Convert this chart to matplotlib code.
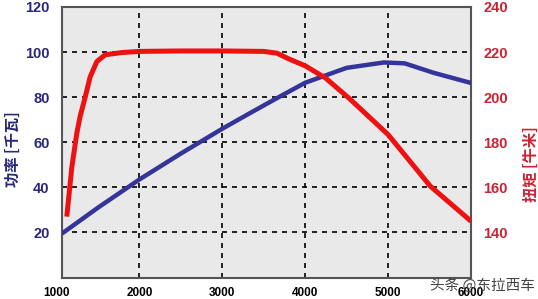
import matplotlib.pyplot as plt
import numpy as np

plt.rcParams['font.family'] = ['Liberation Sans', 'Noto Sans CJK SC', 'DejaVu Sans']

# engine speed (rpm) and curves
power_rpm = [1065, 1500, 2000, 2500, 3000, 3337, 3680, 4000, 4500, 4950, 5200, 5550, 6000]
power_kw = [19.5, 31, 43.5, 55, 66, 73, 80, 86.4, 93, 95.4, 95, 90.8, 86.3]

torque_rpm = [1123, 1184, 1244, 1284, 1345, 1405, 1486, 1586, 1790, 2000, 2500, 3000,
              3500, 3660, 3800, 4000, 4245, 4545, 5000, 5510, 6000]
torque_nm = [147, 169, 184, 191.5, 200, 209, 215.8, 218.8, 219.8, 220.3, 220.5, 220.5,
             220.3, 219.5, 217, 213.9, 208.5, 199, 183.4, 160.5, 145]

x_ticks = [2000, 3000, 4000, 5000, 6000]
left_ticks = [20, 40, 60, 80, 100, 120]
right_ticks = [140, 160, 180, 200, 220, 240]

navy = '#28287a'
red_txt = '#cc2233'

fig = plt.figure(figsize=(5.38, 2.99), dpi=100)
ax = fig.add_axes([0.1152, 0.0719, 0.7602, 0.9047])
ax.set_facecolor('#e9e9e9')

ax.plot(power_rpm, power_kw, color='#34349a', lw=3.2, solid_capstyle='butt', zorder=3)
ax.set_xlim(1065, 6000)
ax.set_ylim(0, 120)
ax.set_xticks(x_ticks)
ax.set_yticks(left_ticks)
ax.grid(True, color='black', linestyle=(0, (3, 3)), lw=1.2)
ax.tick_params(length=0)
ax.tick_params(axis='y', colors=navy, labelsize=10.5, pad=9)
ax.tick_params(axis='x', colors='black', labelsize=8.5, pad=7)
for lab in ax.get_xticklabels() + ax.get_yticklabels():
    lab.set_fontweight('bold')
# the 1000 label sits just left of the axis start
ax.annotate('1000', xy=(1000, 0), xycoords=('data', 'axes fraction'), xytext=(0, -7),
            textcoords='offset points', ha='center', va='top', fontsize=8.5,
            fontweight='bold', annotation_clip=False)
for s in ax.spines.values():
    s.set_color('#555555')
    s.set_linewidth(1.5)

ax2 = ax.twinx()
ax2.plot(torque_rpm, torque_nm, color='#ee1111', lw=3.6, solid_capstyle='butt', zorder=3)
ax2.set_ylim(120, 240)
ax2.set_yticks(right_ticks)
ax2.tick_params(length=0, colors=red_txt, labelsize=10.5, pad=9)
for lab in ax2.get_yticklabels():
    lab.set_fontweight('bold')
for s in ax2.spines.values():
    s.set_visible(False)

fig.text(0.024, 0.5, '功率 [千瓦]', rotation=90, ha='center', va='center', color=navy,
         fontsize=11, fontweight='bold', family=['Noto Sans CJK SC', 'DejaVu Sans'])
fig.text(0.986, 0.45, '扭矩 [牛米]', rotation=90, ha='center', va='center', color=red_txt,
         fontsize=11, fontweight='bold', family=['Noto Sans CJK SC', 'DejaVu Sans'])
fig.text(0.995, 0.045, '头条 @东拉西车', ha='right', va='center', color='#444444',
         fontsize=10.5, family=['Noto Sans CJK SC', 'DejaVu Sans'])

fig.savefig('out.png', dpi=100)
